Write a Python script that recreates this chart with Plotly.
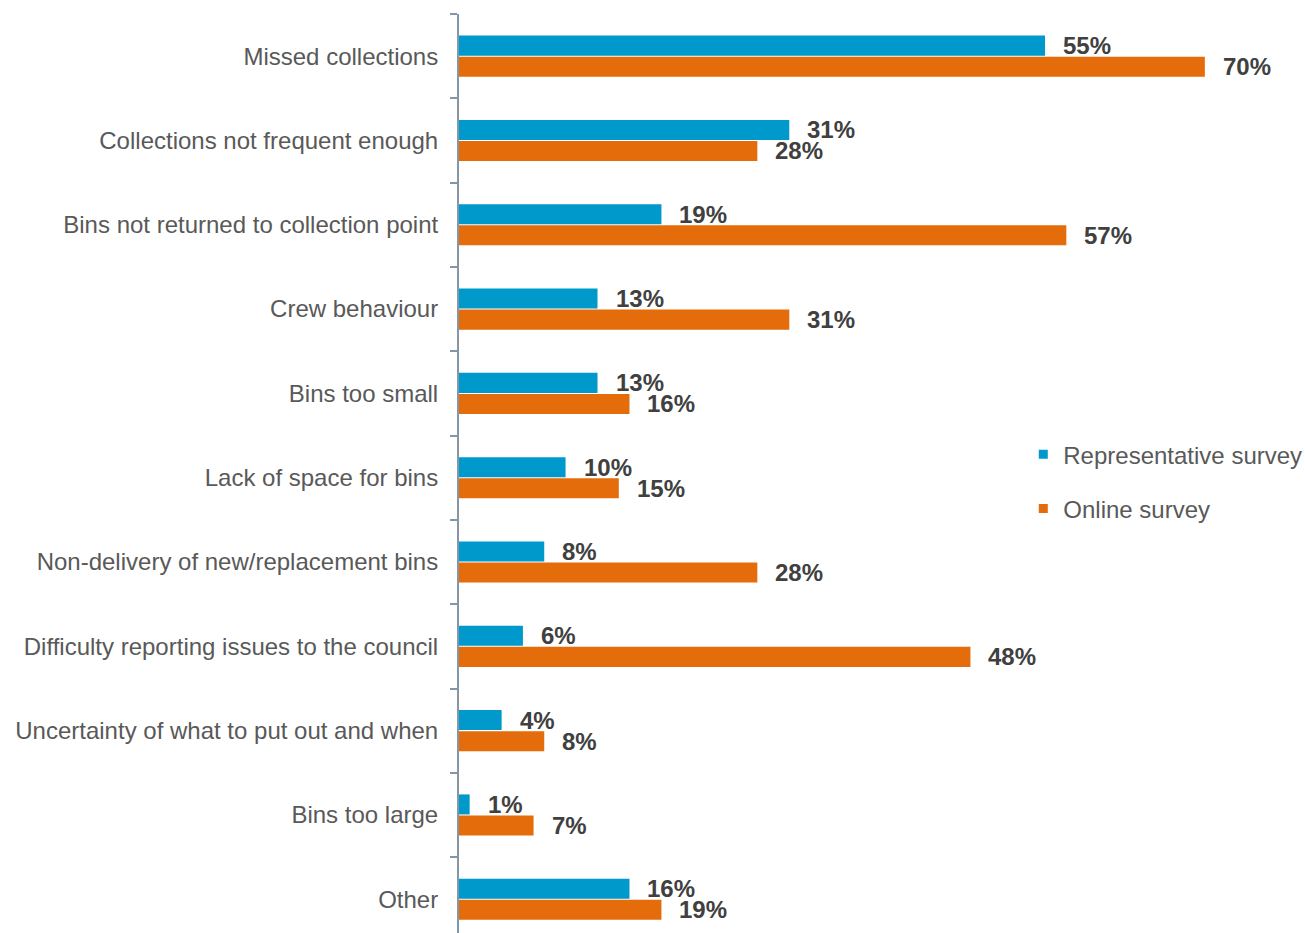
import plotly.graph_objects as go

categories = [
    "Missed collections",
    "Collections not frequent enough",
    "Bins not returned to collection point",
    "Crew behaviour",
    "Bins too small",
    "Lack of space for bins",
    "Non-delivery of new/replacement bins",
    "Difficulty reporting issues to the council",
    "Uncertainty of what to put out and when",
    "Bins too large",
    "Other",
]
representative = [55, 31, 19, 13, 13, 10, 8, 6, 4, 1, 16]
online = [70, 28, 57, 31, 16, 15, 28, 48, 8, 7, 19]
series_names = ["Representative survey", "Online survey"]

BLUE = "#0099CC"
ORANGE = "#E46C0A"
FONT = "Liberation Sans, Arial, sans-serif"

fig = go.Figure()
for name, vals, color in zip(series_names, (representative, online), (BLUE, ORANGE)):
    fig.add_trace(go.Bar(
        y=categories, x=vals, orientation="h", name=name,
        marker=dict(color=color, line=dict(width=0)), showlegend=False,
    ))
# small square legend keys
for i, (name, color) in enumerate(zip(series_names, (BLUE, ORANGE))):
    fig.add_trace(go.Scatter(
        x=[None], y=[None], mode="markers", name=name, legendgroup=f"g{i}",
        marker=dict(symbol="square", size=9, color=color),
    ))

# value labels beside each bar
annotations = []
for cat, r, o in zip(categories, representative, online):
    for val, shift in ((r, 10.5), (o, -10.5)):
        annotations.append(dict(
            x=val, y=cat, xref="x", yref="y", text=f"<b>{val}%</b>",
            showarrow=False, xanchor="left", yanchor="middle",
            xshift=16, yshift=shift,
            font=dict(family=FONT, size=24, color="#404040"),
        ))

fig.update_layout(
    width=1305, height=933,
    margin=dict(l=459, r=0, t=14, b=0, autoexpand=False),
    paper_bgcolor="white", plot_bgcolor="white",
    barmode="group", bargap=0.5, bargroupgap=0.05,
    font=dict(family=FONT, size=24, color="#595959"),
    annotations=annotations,
    legend=dict(
        x=0.667, y=0.545, xanchor="left", yanchor="top",
        font=dict(family=FONT, size=24, color="#595959"),
        tracegroupgap=20, bgcolor="rgba(0,0,0,0)",
    ),
    xaxis=dict(range=[0, 79.4], visible=False, fixedrange=True),
    yaxis=dict(
        type="category", range=[10.4, -0.5],
        tickson="boundaries", ticks="outside", ticklen=7, tickwidth=2,
        tickcolor="#8497A8", showline=True, linecolor="#8497A8", linewidth=2,
        showgrid=False, zeroline=False, ticklabelstandoff=14,
        tickfont=dict(family=FONT, size=24, color="#595959"),
    ),
)

fig.write_html("out.html")
